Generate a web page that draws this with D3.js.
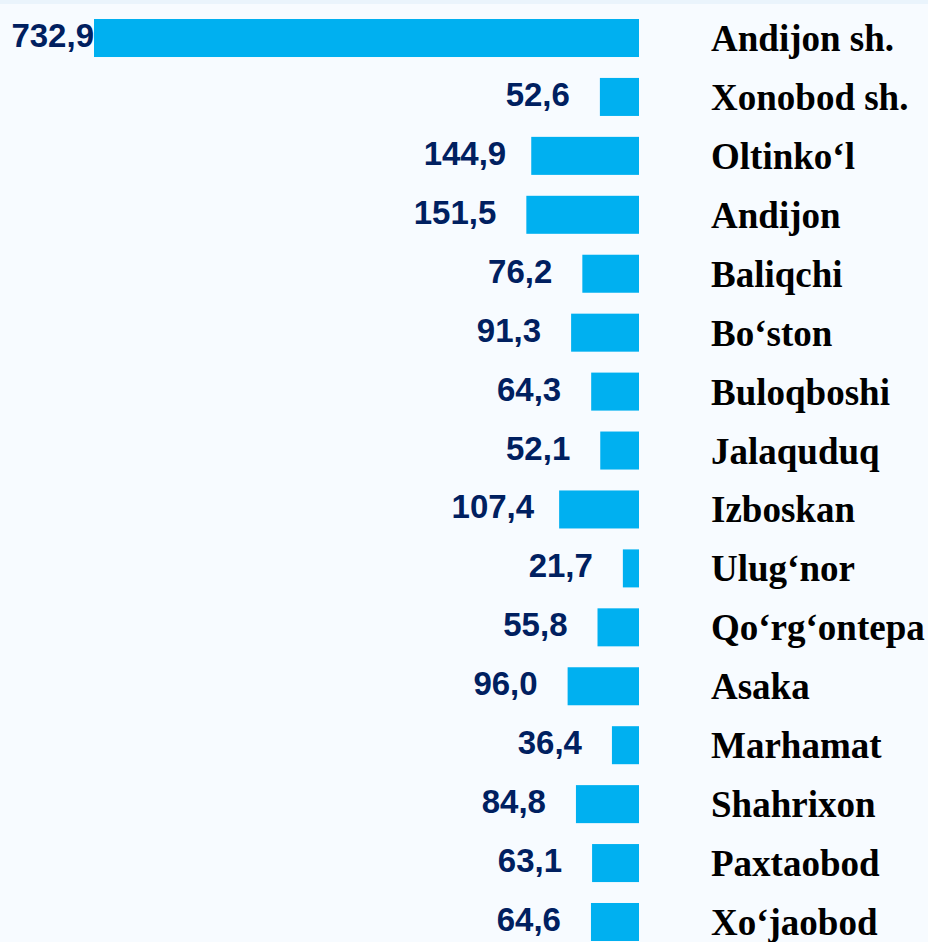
<!DOCTYPE html>
<html>
<head>
<meta charset="utf-8">
<script src="https://cdn.jsdelivr.net/npm/d3@7"></script>
<style>
  html, body { margin: 0; padding: 0; background: #f7fbff; }
  svg { display: block; }
</style>
</head>
<body>
<svg id="chart"></svg>
<script>
// districts, top to bottom
const districts = ["Andijon sh.", "Xonobod sh.", "Oltinko‘l", "Andijon", "Baliqchi", "Bo‘ston",
    "Buloqboshi", "Jalaquduq", "Izboskan", "Ulug‘nor", "Qo‘rg‘ontepa", "Asaka",
    "Marhamat", "Shahrixon", "Paxtaobod", "Xo‘jaobod"]
const values = [732.9, 52.6, 144.9, 151.5, 76.2, 91.3, 64.3, 52.1, 107.4, 21.7, 55.8, 96.0,
    36.4, 84.8, 63.1, 64.6]

let w = 928
let h = 942
let base = 639   // bars grow leftwards from here

let svg = d3.select("#chart")
    .attr("width", w)
    .attr("height", h)

svg.append("rect")
    .attr("width", w).attr("height", h)
    .attr("fill", "#f7fbff")
svg.append("rect")
    .attr("width", w).attr("height", 4)
    .attr("fill", "#eaf4fc")

let x = d3.scaleLinear()
    .domain([0, 732.9])
    .range([0, 545])

let y = d3.scaleBand()
    .domain(districts)
    .range([19, 941])
    .paddingInner(0.355)
    .paddingOuter(0)

const rows = districts.map((d, i) => ({ name: d, value: values[i] }))

svg.append("g")
    .selectAll("rect")
    .data(rows)
    .join("rect")
    .attr("x", d => base - x(d.value))
    .attr("y", d => y(d.name))
    .attr("width", d => x(d.value))
    .attr("height", y.bandwidth())
    .attr("fill", "#00b0f0")

const fmt = v => d3.format(".1f")(v).replace(".", ",")

svg.append("g")
    .selectAll("text")
    .data(rows)
    .join("text")
    .attr("x", d => base - x(d.value) - (d.value > 100 && d.value < 150 ? 25 : d.value > 700 ? 0 : 30))
    .attr("y", d => y(d.name) + y.bandwidth() / 2 + 9)
    .attr("text-anchor", "end")
    .attr("font-family", "'Liberation Sans', Arial, sans-serif")
    .attr("font-weight", "bold")
    .attr("font-size", 33)
    .attr("fill", "#002060")
    .text(d => fmt(d.value))

svg.append("g")
    .selectAll("text")
    .data(rows)
    .join("text")
    .attr("x", 711)
    .attr("y", d => y(d.name) + y.bandwidth() / 2 + 13)
    .attr("font-family", "'Liberation Serif', 'Times New Roman', serif")
    .attr("font-weight", "bold")
    .attr("font-size", 37)
    .attr("fill", "#000")
    .text(d => d.name)
</script>
</body>
</html>
